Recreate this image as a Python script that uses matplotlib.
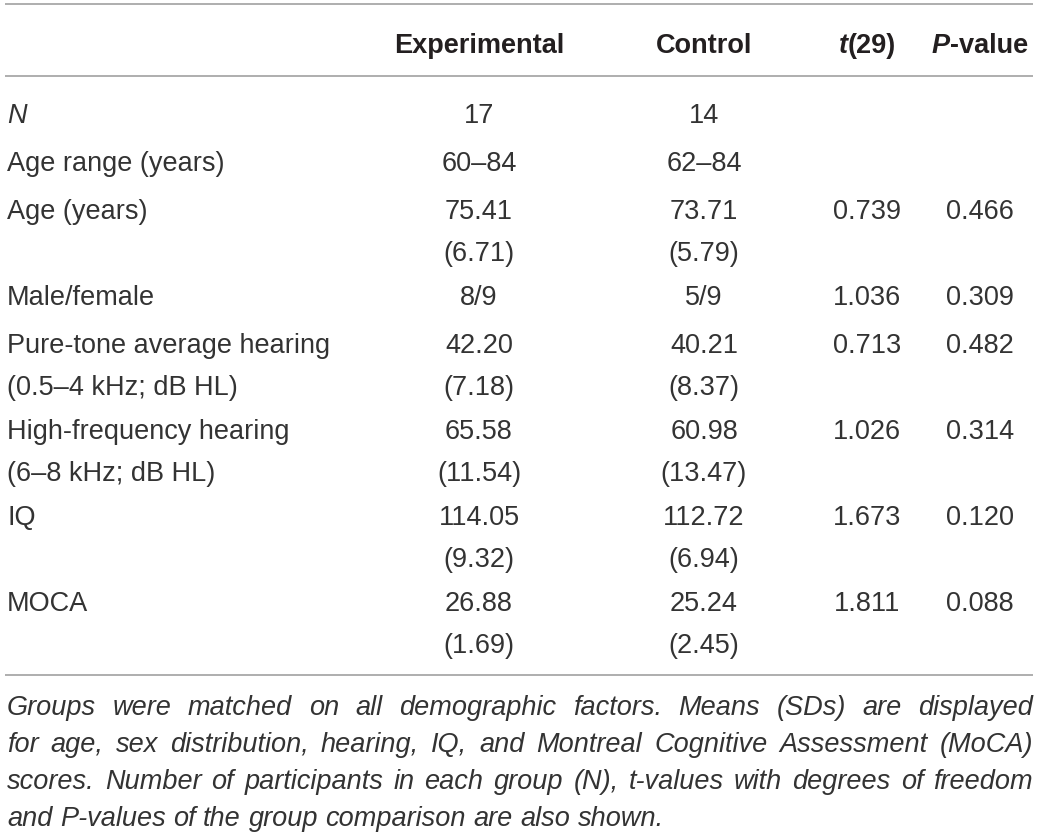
import matplotlib
matplotlib.use("Agg")
import matplotlib.pyplot as plt

# table content
row_labels = ['N', 'Age range (years)', 'Age (years)', 'Male/female',
              'Pure-tone average hearing', 'High-frequency hearing', 'IQ', 'MOCA']
row_sublabels = ['', '', '', '', '(0.5–4 kHz; dB HL)', '(6–8 kHz; dB HL)', '', '']
exp_vals = ['17', '60–84', '75.41', '8/9', '42.20', '65.58', '114.05', '26.88']
exp_sd = ['', '', '(6.71)', '', '(7.18)', '(11.54)', '(9.32)', '(1.69)']
ctrl_vals = ['14', '62–84', '73.71', '5/9', '40.21', '60.98', '112.72', '25.24']
ctrl_sd = ['', '', '(5.79)', '', '(8.37)', '(13.47)', '(6.94)', '(2.45)']
t_vals = ['', '', '0.739', '1.036', '0.713', '1.026', '1.673', '1.811']
p_vals = ['', '', '0.466', '0.309', '0.482', '0.314', '0.120', '0.088']

caption_lines = [
    "Groups were matched on all demographic factors. Means (SDs) are displayed",
    "for age, sex distribution, hearing, IQ, and Montreal Cognitive Assessment (MoCA)",
    "scores. Number of participants in each group (N), t-values with degrees of freedom",
    "and P-values of the group comparison are also shown.",
]

FAMILY = 'Liberation Sans'
TXT = '#333333'
FS = 19.5

W, H = 1041, 837
fig = plt.figure(figsize=(W / 100, H / 100), dpi=100)
ax = fig.add_axes([0, 0, 1, 1])
ax.set_xlim(0, W)
ax.set_ylim(H, 0)
ax.axis('off')
renderer = fig.canvas.get_renderer()


def put(x, y, s, ha='center', style='normal', weight='normal', size=FS):
    # y is the centre of the capital letters
    cap_half = 0.36 * size * 100 / 72
    return ax.text(x, y + cap_half, s, ha=ha, va='baseline', fontsize=size,
                   family=FAMILY, fontweight=weight, style=style,
                   color='#231f20' if weight == 'bold' else TXT)


def width(t):
    return t.get_window_extent(renderer).width


# rules
for y in (5, 77, 676):
    ax.plot([5, 1033], [y, y], color='#999999', lw=1.1, solid_capstyle='butt')

# header
col_x = [479, 704, 867, 980]
put(col_x[0], 43, 'Experimental', weight='bold')
put(col_x[1], 43, 'Control', weight='bold')
for cx, (a, b) in zip(col_x[2:], [('t', '(29)'), ('P', '-value')]):
    t1 = put(0, 43, a, ha='left', style='italic', weight='bold')
    t2 = put(0, 43, b, ha='left', weight='bold')
    w1, w2 = width(t1), width(t2)
    x0 = cx - (w1 + w2) / 2
    t1.set_x(x0)
    t2.set_x(x0 + w1)

# body rows
y = 113
for i, lab in enumerate(row_labels):
    put(7, y, lab, ha='left', style='italic' if lab == 'N' else 'normal')
    put(col_x[0], y, exp_vals[i])
    put(col_x[1], y, ctrl_vals[i])
    put(col_x[2], y, t_vals[i])
    put(col_x[3], y, p_vals[i])
    if exp_sd[i] or row_sublabels[i]:
        put(7, y + 42, row_sublabels[i], ha='left')
        put(col_x[0], y + 42, exp_sd[i])
        put(col_x[1], y + 42, ctrl_sd[i])
        y += 86
    else:
        y += 48

# justified caption; shrink the size so the longest line fits
left, right = 7, 1033
probe = put(0, 0, max(caption_lines, key=len), ha='left', style='italic')
cfs = min(FS, FS * (right - left - 8) / width(probe))
probe.remove()

cy = 705
for k, line in enumerate(caption_lines):
    words = line.split(' ')
    texts = [put(0, cy, w, ha='left', style='italic', size=cfs) for w in words]
    widths = [width(t) for t in texts]
    if k < len(caption_lines) - 1:
        gap = (right - left - sum(widths)) / (len(words) - 1)
    else:
        pair = put(0, cy, 'a a', ha='left', style='italic', size=cfs)
        single = put(0, cy, 'aa', ha='left', style='italic', size=cfs)
        gap = width(pair) - width(single)
        pair.remove()
        single.remove()
    x = left
    for t, w in zip(texts, widths):
        t.set_x(x)
        x += w + gap
    cy += 37

fig.savefig('out.png', dpi=100)
